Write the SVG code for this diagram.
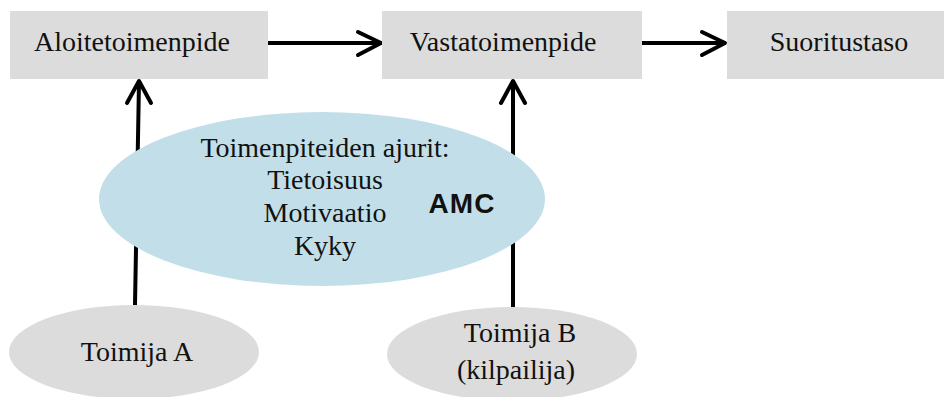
<svg xmlns="http://www.w3.org/2000/svg" width="944" height="397" viewBox="0 0 944 397">
  <style>
    .box { fill: #dcdcdc; }
    .actor { fill: #dcdcdc; }
    .drivers { fill: #c2dfe9; }
    .lbl { font-family: "Liberation Serif", "Times New Roman", serif; font-size: 28px; fill: #111; text-anchor: middle; }
    .amc { font-family: "Liberation Sans", Arial, sans-serif; font-size: 28px; font-weight: bold; fill: #111; text-anchor: middle; letter-spacing: 1px; }
    .wire { stroke: #000; stroke-width: 4; fill: none; stroke-linecap: round; stroke-linejoin: round; }
  </style>
  <rect width="944" height="397" fill="#fff"/>

  <g id="connectors">
    <!-- horizontal flow -->
    <line class="wire" x1="268" y1="43" x2="380" y2="43"/>
    <polyline class="wire" points="358,32 381,43 358,55"/>
    <line class="wire" x1="642" y1="43" x2="724" y2="43"/>
    <polyline class="wire" points="702,32 725,43 702,55"/>
    <!-- actors up to actions -->
    <line class="wire" x1="135" y1="305" x2="139" y2="82"/>
    <polyline class="wire" points="127,103 139,81 151,103"/>
    <line class="wire" x1="513" y1="307" x2="513" y2="82"/>
    <polyline class="wire" points="501,103 513,81 525,103"/>
  </g>

  <g id="aloitetoimenpide">
    <rect class="box" x="10" y="11" width="258" height="68"/>
    <text class="lbl" x="132" y="51">Aloitetoimenpide</text>
  </g>
  <g id="vastatoimenpide">
    <rect class="box" x="382" y="11" width="260" height="68"/>
    <text class="lbl" x="503" y="51">Vastatoimenpide</text>
  </g>
  <g id="suoritustaso">
    <rect class="box" x="727" y="11" width="217" height="68"/>
    <text class="lbl" x="839" y="51">Suoritustaso</text>
  </g>

  <g id="ajurit">
    <ellipse class="drivers" cx="322" cy="199" rx="223" ry="87"/>
    <text class="lbl" x="325" y="157">Toimenpiteiden ajurit:</text>
    <text class="lbl" x="325" y="189">Tietoisuus</text>
    <text class="lbl" x="325" y="222">Motivaatio</text>
    <text class="lbl" x="325" y="255">Kyky</text>
    <text class="amc" x="462" y="213">AMC</text>
  </g>

  <g id="toimija-a">
    <ellipse class="actor" cx="134" cy="352" rx="125" ry="47"/>
    <text class="lbl" x="137" y="361">Toimija A</text>
  </g>
  <g id="toimija-b">
    <ellipse class="actor" cx="512" cy="354" rx="125" ry="47"/>
    <text class="lbl" x="520" y="342">Toimija B</text>
    <text class="lbl" x="516" y="379">(kilpailija)</text>
  </g>
</svg>
